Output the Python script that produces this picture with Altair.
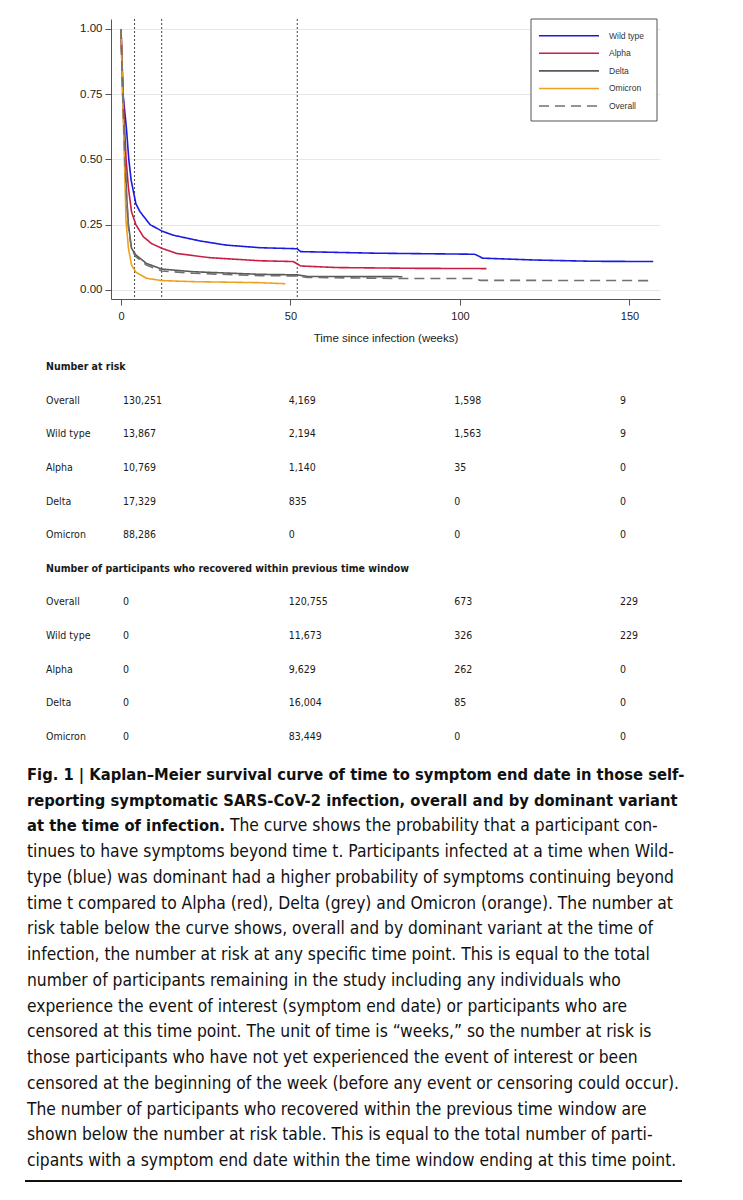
import altair as alt
import pandas as pd

SANS = "Liberation Sans, Arial, Helvetica, sans-serif"
NARROW = "DejaVu Sans Condensed, Liberation Sans Narrow, Liberation Sans, sans-serif"

# ---------------- Kaplan-Meier curves ----------------
series_names = ["Wild type", "Alpha", "Delta", "Omicron", "Overall"]
series_colors = ["#1a1ae0", "#c81e46", "#5a5a5a", "#f0a020", "#707070"]
series_dash = [[1, 0], [1, 0], [1, 0], [1, 0], [10, 6]]

wild_t = [0, 0.6, 1.6, 2.3, 3.0, 4.4, 5.6, 8.6, 10.5, 12, 15.4, 23.3, 31, 41, 52, 53, 75, 104.3, 105.5, 106.6, 121.7, 139, 157]
wild_s = [1.0, 0.75, 0.62, 0.50, 0.42, 0.33, 0.30, 0.25, 0.237, 0.226, 0.21, 0.188, 0.172, 0.162, 0.158, 0.147, 0.141, 0.137, 0.13, 0.122, 0.115, 0.11, 0.109]

alpha_t = [0, 0.6, 1.5, 2.2, 3.1, 4.4, 6.6, 9, 12, 16.4, 26, 41, 50.8, 52, 53, 63.6, 86.9, 107.8]
alpha_s = [1.0, 0.75, 0.50, 0.39, 0.30, 0.25, 0.204, 0.178, 0.16, 0.14, 0.124, 0.112, 0.109, 0.10, 0.092, 0.086, 0.083, 0.082]

delta_t = [0, 0.5, 1.2, 1.7, 2.2, 3.1, 4.4, 7.5, 12, 21.3, 41, 52, 55, 83]
delta_s = [1.0, 0.75, 0.50, 0.35, 0.25, 0.16, 0.134, 0.102, 0.08, 0.07, 0.06, 0.058, 0.052, 0.051]

omicron_t = [0, 0.5, 1.0, 1.5, 2.2, 3.1, 4.4, 7.5, 12, 21.3, 41, 48.5]
omicron_s = [1.0, 0.75, 0.50, 0.26, 0.16, 0.096, 0.068, 0.045, 0.036, 0.032, 0.028, 0.024]

overall_t = [0, 0.5, 1.2, 1.7, 2.2, 3.1, 4.4, 7.5, 12, 21.3, 41, 52, 55, 63.6, 82, 104, 106, 157]
overall_s = [1.0, 0.75, 0.49, 0.34, 0.24, 0.155, 0.128, 0.096, 0.073, 0.064, 0.055, 0.054, 0.048, 0.047, 0.044, 0.044, 0.037, 0.036]

landmark_weeks = [4, 12, 52]

# ---------------- Risk tables ----------------
group_labels = ["Overall", "Wild type", "Alpha", "Delta", "Omicron"]
time_points = [0, 50, 100, 150]
header_risk = "Number at risk"
header_recovered = "Number of participants who recovered within previous time window"
at_risk_overall = ["130,251", "4,169", "1,598", "9"]
at_risk_wild = ["13,867", "2,194", "1,563", "9"]
at_risk_alpha = ["10,769", "1,140", "35", "0"]
at_risk_delta = ["17,329", "835", "0", "0"]
at_risk_omicron = ["88,286", "0", "0", "0"]
rec_overall = ["0", "120,755", "673", "229"]
rec_wild = ["0", "11,673", "326", "229"]
rec_alpha = ["0", "9,629", "262", "0"]
rec_delta = ["0", "16,004", "85", "0"]
rec_omicron = ["0", "83,449", "0", "0"]

# ---------------- Caption ----------------
caption_bold = [
    "Fig. 1 | Kaplan\u2013Meier survival curve of time to symptom end date in those self-",
    "reporting symptomatic SARS-CoV-2 infection, overall and by dominant variant",
    "at the time of infection.",
]
caption_line3_tail = "The curve shows the probability that a participant con-"
caption_regular = [
    "tinues to have symptoms beyond time t. Participants infected at a time when Wild-",
    "type (blue) was dominant had a higher probability of symptoms continuing beyond",
    "time t compared to Alpha (red), Delta (grey) and Omicron (orange). The number at",
    "risk table below the curve shows, overall and by dominant variant at the time of",
    "infection, the number at risk at any specific time point. This is equal to the total",
    "number of participants remaining in the study including any individuals who",
    "experience the event of interest (symptom end date) or participants who are",
    "censored at this time point. The unit of time is \u201cweeks,\u201d so the number at risk is",
    "those participants who have not yet experienced the event of interest or been",
    "censored at the beginning of the week (before any event or censoring could occur).",
    "The number of participants who recovered within the previous time window are",
    "shown below the number at risk table. This is equal to the total number of parti-",
    "cipants with a symptom end date within the time window ending at this time point.",
]

# ---------------- Data frames ----------------
km_rows = []
for name, ts, ss in [("Wild type", wild_t, wild_s), ("Alpha", alpha_t, alpha_s),
                     ("Delta", delta_t, delta_s), ("Omicron", omicron_t, omicron_s),
                     ("Overall", overall_t, overall_s)]:
    for t, s in zip(ts, ss):
        km_rows.append({"series": name, "week": t, "surv": s})
km_df = pd.DataFrame(km_rows)

color_scale = alt.Scale(domain=series_names, range=series_colors)
dash_scale = alt.Scale(domain=series_names, range=series_dash)
x_scale = alt.Scale(domain=[-2.95, 159], nice=False, zero=False)
y_scale = alt.Scale(domain=[-0.0345, 1.0383], nice=False, zero=False)

vrules = alt.Chart(pd.DataFrame({"week": landmark_weeks})).mark_rule(
    strokeDash=[2, 2], color="#444444", strokeWidth=1
).encode(x=alt.X("week:Q", scale=x_scale))

lines = alt.Chart(km_df).mark_line(strokeWidth=1.6).encode(
    x=alt.X("week:Q", scale=x_scale,
            axis=alt.Axis(values=time_points, title="Time since infection (weeks)", grid=False,
                          tickSize=6, labelPadding=5, titlePadding=11, labelFontSize=11,
                          titleFontSize=11.5, titleFontWeight="normal")),
    y=alt.Y("surv:Q", scale=y_scale,
            axis=alt.Axis(values=[0, 0.25, 0.5, 0.75, 1.0], format=".2f", title=None, grid=True,
                          gridColor="#e8e8e8", tickSize=6, labelPadding=3, labelFontSize=11.5)),
    color=alt.Color("series:N", scale=color_scale, legend=None),
    strokeDash=alt.StrokeDash("series:N", scale=dash_scale, legend=None),
)

km = alt.layer(vrules, lines)

# legend
leg_df = pd.DataFrame({"series": series_names})
leg_y = alt.Scale(type="point", domain=series_names, range=[16.7, 87], padding=0)
leg_box = alt.Chart(pd.DataFrame({"k": [0]})).mark_rect(
    fill="white", stroke="#555555", strokeWidth=1
).encode(x=alt.value(420), x2=alt.value(546), y=alt.value(0), y2=alt.value(102))
leg_lines = alt.Chart(leg_df).mark_rule(strokeWidth=1.6).encode(
    x=alt.value(428), x2=alt.value(488),
    y=alt.Y("series:N", scale=leg_y, axis=None),
    color=alt.Color("series:N", scale=color_scale, legend=None),
    strokeDash=alt.StrokeDash("series:N", scale=dash_scale, legend=None),
)
leg_text = alt.Chart(leg_df).mark_text(
    align="left", baseline="middle", fontSize=8.5, font=SANS, color="#333333"
).encode(x=alt.value(498), y=alt.Y("series:N", scale=leg_y, axis=None), text="series:N")

# tables
head_rows = [{"line": 0, "label": header_risk}, {"line": 6, "label": header_recovered}]
lab_rows = []
val_rows = []
risk_vals = [at_risk_overall, at_risk_wild, at_risk_alpha, at_risk_delta, at_risk_omicron]
rec_vals = [rec_overall, rec_wild, rec_alpha, rec_delta, rec_omicron]
for base, block in [(1, risk_vals), (7, rec_vals)]:
    for i, (g, vals) in enumerate(zip(group_labels, block)):
        lab_rows.append({"line": base + i, "label": g})
        for tp, v in zip(time_points, vals):
            val_rows.append({"line": base + i, "tp": tp, "val": v})
head_df = pd.DataFrame(head_rows)
lab_df = pd.DataFrame(lab_rows)
val_df = pd.DataFrame(val_rows)

TAB_FS = 10.5
tab_y = alt.Scale(type="point", domain=list(range(12)), range=[348, 718], padding=0)
tab_heads = alt.Chart(head_df).mark_text(
    align="left", baseline="middle", fontSize=TAB_FS, font=NARROW, fontWeight="bold", color="#1a1a1a"
).encode(x=alt.value(-65), y=alt.Y("line:O", scale=tab_y, axis=None), text="label:N")
tab_labels = alt.Chart(lab_df).mark_text(
    align="left", baseline="middle", fontSize=TAB_FS, font=NARROW, color="#1a1a1a"
).encode(x=alt.value(-65), y=alt.Y("line:O", scale=tab_y, axis=None), text="label:N")
tab_values = alt.Chart(val_df).mark_text(
    align="left", baseline="middle", fontSize=TAB_FS, font=NARROW, color="#1a1a1a"
).encode(
    x=alt.X("tp:Q", scale=alt.Scale(domain=[0, 150], range=[12, 509]), axis=None),
    y=alt.Y("line:O", scale=tab_y, axis=None),
    text="val:N",
)

# caption
CAP_B = 16.4
CAP_R = 17.3
cap_y = alt.Scale(type="point", domain=list(range(16)), range=[756, 1142], padding=0)
cap_b_df = pd.DataFrame({"line": [0, 1, 2], "text": caption_bold})
cap_t_df = pd.DataFrame({"line": [2], "text": [caption_line3_tail]})
cap_r_df = pd.DataFrame({"line": list(range(3, 16)), "text": caption_regular})

cap_bold = alt.Chart(cap_b_df).mark_text(
    align="left", baseline="middle", fontSize=CAP_B, font=NARROW, fontWeight="bold", color="#111111"
).encode(x=alt.value(-84), y=alt.Y("line:O", scale=cap_y, axis=None), text="text:N")
cap_tail = alt.Chart(cap_t_df).mark_text(
    align="left", baseline="middle", fontSize=CAP_R, font=NARROW, color="#111111"
).encode(x=alt.value(119), y=alt.Y("line:O", scale=cap_y, axis=None), text="text:N")
cap_reg = alt.Chart(cap_r_df).mark_text(
    align="left", baseline="middle", fontSize=CAP_R, font=NARROW, color="#111111"
).encode(x=alt.value(-84), y=alt.Y("line:O", scale=cap_y, axis=None), text="text:N")
cap_rule = alt.Chart(pd.DataFrame({"k": [0]})).mark_rule(color="#111111", strokeWidth=2).encode(
    x=alt.value(-86), x2=alt.value(571), y=alt.value(1162)
)

chart = alt.layer(
    km, leg_box, leg_lines, leg_text, tab_heads, tab_labels, tab_values,
    cap_bold, cap_tail, cap_reg, cap_rule
).resolve_scale(
    x="independent", y="independent"
).properties(
    width=549, height=280,
    autosize=alt.AutoSizeParams(type="none"),
    padding={"left": 103, "top": 11, "right": 75, "bottom": 895},
).configure_view(stroke=None).configure_axis(
    labelFont=SANS, titleFont=SANS, labelColor="#222222", titleColor="#222222",
    domainColor="#555555", tickColor="#555555",
)

chart.save("out.html", embed_options={"renderer": "svg", "actions": False})
